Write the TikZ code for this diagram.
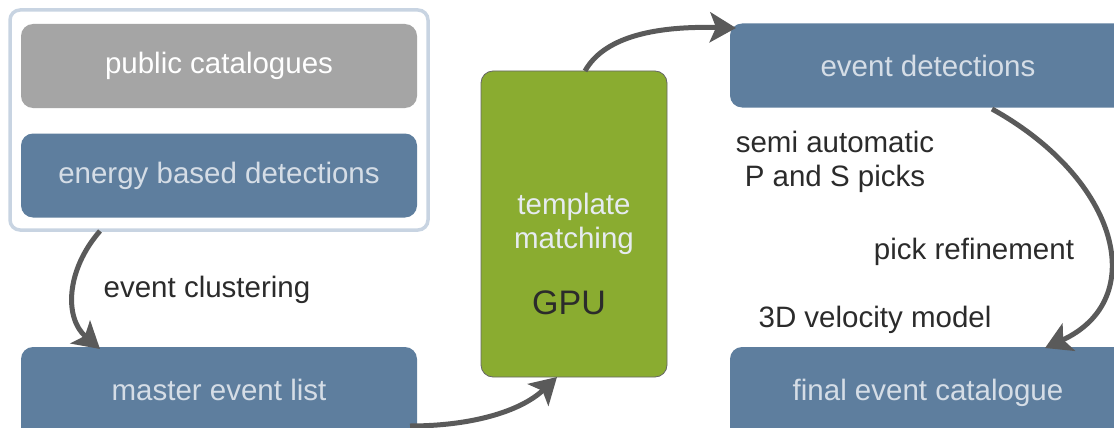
\documentclass[tikz,border=0pt]{standalone}
\usepackage{fontspec}
\setmainfont{Liberation Sans}
\usetikzlibrary{arrows.meta}
\definecolor{boxblue}{HTML}{5E7E9E}
\definecolor{boxgray}{HTML}{A5A5A5}
\definecolor{boxgreen}{HTML}{8AAC30}
\definecolor{lighttext}{HTML}{D5DDE6}
\definecolor{darktext}{HTML}{2B2B2B}
\definecolor{framecol}{HTML}{C8D4E2}
\definecolor{arrowcol}{HTML}{5A5A5A}
\tikzset{
  base/.style={rectangle, rounded corners=12pt, inner sep=0pt, font=\fontsize{29.5}{33}\selectfont, align=center},
  bluebox/.style={base, fill=boxblue, text=lighttext, minimum width=396pt, minimum height=84pt},
  graybox/.style={base, fill=boxgray, text=white, minimum width=396pt, minimum height=84pt},
  greenbox/.style={base, fill=boxgreen, draw=black!60, line width=0.8pt, minimum width=186pt, minimum height=306pt},
  lbl/.style={font=\fontsize{29.5}{34}\selectfont, text=darktext, inner sep=0pt, align=center},
  flow/.style={draw=arrowcol, line width=5pt, -{Stealth[length=26pt,width=30pt,inset=6pt]}},
}
\begin{document}
\begin{tikzpicture}[x=1pt,y=-1pt]
\useasboundingbox (0,0) rectangle (1114,428);
% left group frame
\node[rectangle, rounded corners=10pt, draw=framecol, line width=3.5pt, fill=white, minimum width=418pt, minimum height=220pt, inner sep=0pt] (frame) at (219,120) {};
\node[graybox] (pub) at (219,66) {\raisebox{-2pt}{public catalogues}};
\node[bluebox] (ebd) at (219,175.5) {\raisebox{-2pt}{energy based detections}};
\node[bluebox, minimum height=93pt] (master) at (219,393.5) {\raisebox{8pt}{master event list}};
% GPU box
\node[greenbox] (tm) at (574,224) {};
\node[lbl, text=lighttext!60!white] (tmtext) at (574,224) {template\\matching};
\node[lbl, font=\fontsize{34}{38}\selectfont] (gpu) at (569,303) {GPU};
% right column
\node[bluebox] (evd) at (928,65.5) {\raisebox{-2pt}{event detections}};
\node[bluebox, minimum height=93pt] (final) at (928,393.5) {\raisebox{8pt}{final event catalogue}};
% labels
\node[lbl] (clus) at (207,290) {event clustering};
\node[lbl] (semi) at (835,162) {semi automatic\\P and S picks};
\node[lbl] (pick) at (974,252) {pick refinement};
\node[lbl] (vel) at (875,320) {3D velocity model};
% connectors
\coordinate (a1s) at (100,231);
\coordinate (a1e) at (100,349);
\draw[flow] (a1s) .. controls (66,270) and (64,318) .. (a1e);
\coordinate (a2s) at (410,426);
\coordinate (a2e) at (557,377);
\draw[flow] (a2s) .. controls (470,426) and (520,412) .. (a2e);
\coordinate (a3s) at (585,71);
\coordinate (a3e) at (736,28);
\draw[flow] (a3s) .. controls (605,35) and (660,26) .. (a3e);
\coordinate (a4s) at (992,109);
\coordinate (a4e) at (1045,348);
\draw[flow] (a4s) .. controls (1120,180) and (1150,300) .. (a4e);
\end{tikzpicture}
\end{document}
